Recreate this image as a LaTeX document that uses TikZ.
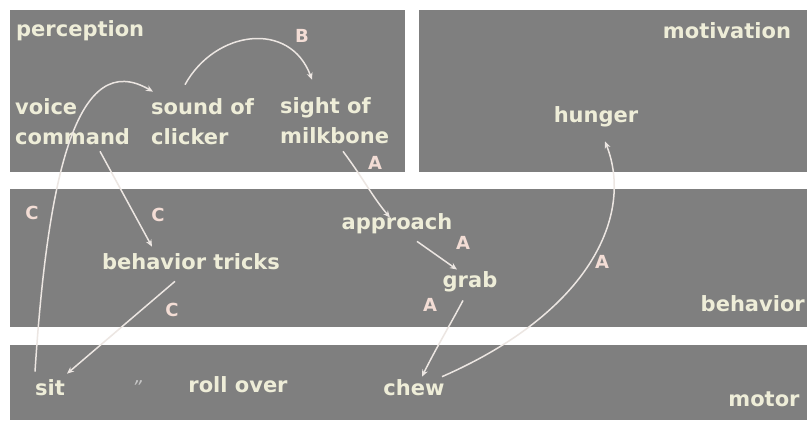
\documentclass[tikz,border=0pt]{standalone}
\usepackage{fontspec}
\setmainfont{DejaVu Sans}
\usetikzlibrary{arrows.meta}
\definecolor{panelgray}{HTML}{7F7F7F}
\definecolor{txt}{HTML}{EEEDD8}
\definecolor{lbl}{HTML}{F3DDD5}
\definecolor{arr}{HTML}{ECE6E2}
\tikzset{
  panel/.style={fill=panelgray, draw=none},
  word/.style={text=txt, font=\fontsize{21}{30}\selectfont\bfseries, inner sep=0pt, align=left},
  tag/.style={text=lbl, font=\fontsize{18}{20}\selectfont\bfseries, inner sep=0pt},
  link/.style={draw=arr, line width=1.5pt, -{Stealth[length=7pt,width=6pt]}},
  plain/.style={draw=arr, line width=1.5pt}
}
\begin{document}
\begin{tikzpicture}[x=1pt,y=-1pt]
\useasboundingbox (0,0) rectangle (807,423);
\fill[white] (0,0) rectangle (807,423);
% panels
\fill[panel] (10,10) rectangle (405,172);
\fill[panel] (419,10) rectangle (807,172);
\fill[panel] (10,189) rectangle (807,327);
\fill[panel] (10,345) rectangle (807,420);
% panel titles
\node[word, anchor=west] (tperc) at (16,31) {perception};
\node[word] (tmot) at (727,31) {motivation};
\node[word, anchor=east] (tbeh) at (805,304) {behavior};
\node[word] (tmot2) at (764,399) {motor};
% nodes
\node[word, anchor=west] (voice) at (15,122) {voice\\command};
\node[word, anchor=west] (sound) at (151,122) {sound of\\clicker};
\node[word, anchor=west] (sight) at (280,121) {sight of\\milkbone};
\node[word] (hunger) at (596,117) {hunger};
\node[word] (tricks) at (191,262) {behavior tricks};
\node[word] (approach) at (397,224) {approach};
\node[word] (grab) at (470,282) {grab};
\node[word] (sit) at (50,388) {sit};
\node[text=panelgray!45!white, font=\fontsize{19}{19}\selectfont\itshape, inner sep=0pt] (ditto) at (137,388) {”};
\node[word] (roll) at (238,385) {roll over};
\node[word] (chew) at (414,388) {chew};
% connectors
\draw[link] ([shift={(-15pt,8pt)}]sit.north) .. controls (48,170) and (78,48) .. ([shift={(2pt,7pt)}]sound.north west);
\draw[link] ([shift={(34pt,14pt)}]sound.north west) .. controls (215,30) and (290,20) .. ([shift={(32pt,18pt)}]sight.north west);
\draw[link] ([shift={(85pt,-6pt)}]voice.south west) -- ([shift={(-39pt,7pt)}]tricks.north);
\draw[link] ([shift={(-16pt,-11pt)}]tricks.south) -- ([shift={(17pt,6pt)}]sit.north);
\draw[link] ([shift={(63pt,-7pt)}]sight.south west) .. controls (363,178) and (372,196) .. ([shift={(-7pt,-4pt)}]approach.north);
\draw[link] ([shift={(20pt,-7pt)}]approach.south) -- ([shift={(-13pt,2pt)}]grab.north);
\draw[link] ([shift={(-7pt,-8pt)}]grab.south) .. controls (450,325) and (435,350) .. ([shift={(8pt,3pt)}]chew.north);
\draw[link] ([shift={(28pt,3pt)}]chew.north) .. controls (590,312) and (634,215) .. ([shift={(9pt,-14pt)}]hunger.south);
% labels
\node[tag] (lB) at (302,36) {B};
\node[tag] (lC1) at (32,213) {C};
\node[tag] (lC2) at (158,215) {C};
\node[tag] (lC3) at (172,310) {C};
\node[tag] (lA1) at (375,163) {A};
\node[tag] (lA2) at (463,243) {A};
\node[tag] (lA3) at (430,305) {A};
\node[tag] (lA4) at (602,262) {A};
\end{tikzpicture}
\end{document}
